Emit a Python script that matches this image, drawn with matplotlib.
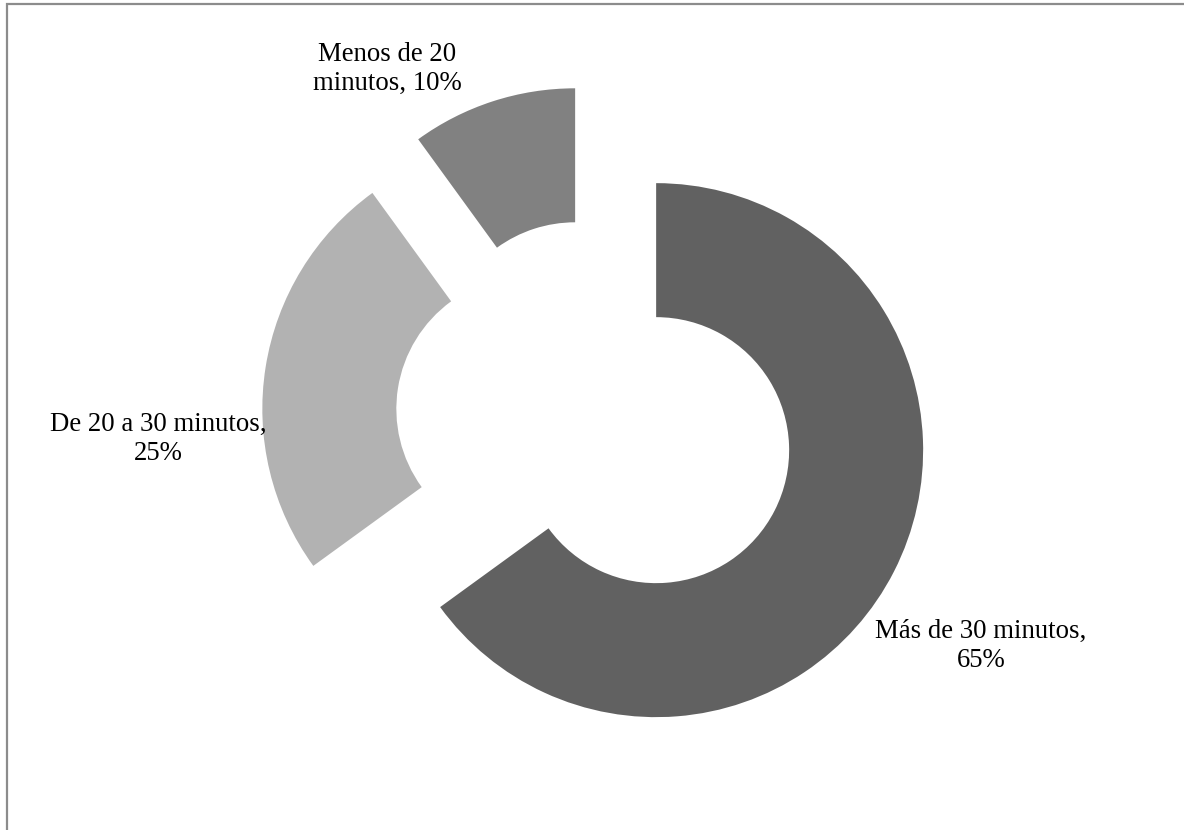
import matplotlib
matplotlib.use("Agg")
import matplotlib.pyplot as plt
from matplotlib.patches import Rectangle

# datos
categorias = ["Más de 30 minutos", "De 20 a 30 minutos", "Menos de 20 minutos"]
porcentajes = [65, 25, 10]
etiquetas = ["Más de 30 minutos,\n65%", "De 20 a 30 minutos,\n25%", "Menos de 20\nminutos, 10%"]
colores = ["#616161", "#b2b2b2", "#818181"]

W, H = 1184, 830
fig = plt.figure(figsize=(W / 100, H / 100), dpi=100)
ax = fig.add_axes([0, 0, 1, 1])

radio = 267
centro = (596, H - 419.5)
ax.pie(porcentajes, radius=radio, center=centro, startangle=90, counterclock=False,
       explode=[67.5] * 3, colors=colores, wedgeprops=dict(width=134, linewidth=0),
       frame=True)
ax.set_xlim(0, W)
ax.set_ylim(0, H)
ax.set_aspect("equal")
ax.axis("off")

# posiciones de las etiquetas (pixeles)
pos_etiquetas = [(981, H - 646), (158, H - 439), (387, H - 69)]
for txt, (x, y) in zip(etiquetas, pos_etiquetas):
    ax.text(x, y, txt, ha="center", va="center", fontsize=19.3,
            family="Liberation Serif", linespacing=1.22, color="#000000")

# borde (solo arriba e izquierda visibles)
fig.patches.append(Rectangle((6.5 / W, -0.1), 1.2, 1.1 - 4.5 / H, transform=fig.transFigure,
                             fill=False, edgecolor="#8c8c8c", linewidth=1.6))

fig.savefig("out.png", dpi=100)
